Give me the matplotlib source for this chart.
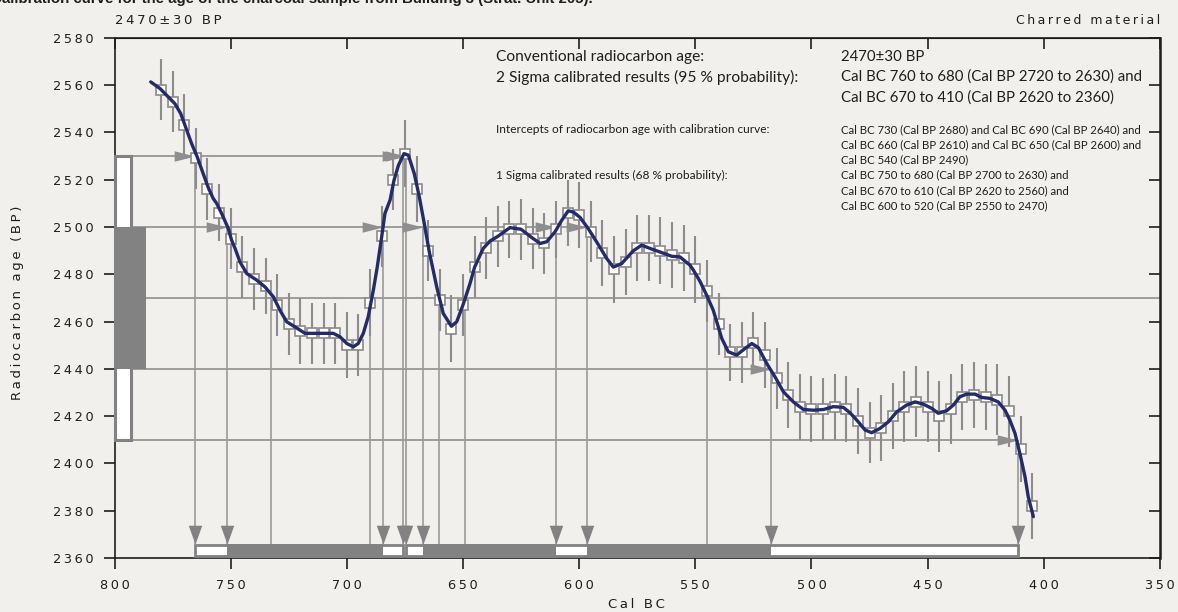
import numpy as np
import matplotlib.pyplot as plt
from matplotlib.patches import Rectangle

# calibration points (5-year steps) with 1-sigma error, Cal BC
point_years = list(range(780, 400, -5))
point_ages = [2558, 2553, 2543, 2529, 2516, 2506, 2495, 2483, 2478, 2475,
              2467, 2459, 2456, 2455, 2455, 2455, 2450, 2450, 2468, 2496,
              2520, 2531, 2516, 2490, 2469, 2457, 2467, 2483, 2491, 2496,
              2499, 2499, 2495, 2493, 2499, 2506, 2505, 2498, 2489, 2482,
              2485, 2491, 2491, 2490, 2488, 2487, 2482, 2473, 2459, 2447,
              2447, 2451, 2446, 2436, 2429, 2424, 2423, 2423, 2424, 2423,
              2418, 2413, 2415, 2420, 2424, 2426, 2424, 2420, 2423, 2428,
              2429, 2428, 2427, 2422, 2406, 2382]
point_errs = [13, 13, 13, 13, 13, 12, 13, 13, 13, 12,
              13, 13, 14, 13, 13, 13, 14, 13, 14, 13,
              13, 14, 14, 13, 13, 14, 13, 13, 13, 13,
              12, 13, 13, 13, 12, 14, 14, 13, 14, 14,
              14, 14, 14, 14, 14, 14, 14, 13, 13, 12,
              13, 13, 14, 13, 14, 14, 14, 13, 14, 14,
              14, 13, 14, 14, 15, 15, 15, 15, 15, 14,
              14, 14, 15, 15, 14, 14]

# smoothed calibration curve
curve_years = [784.4, 780.4, 777.5, 774.0, 771.5, 768.9, 766.8, 764.4, 762.0, 759.6,
               757.5, 756.0, 753.9, 751.0, 749.6, 748.1, 746.0, 743.1, 738.8, 735.2,
               731.6, 728.8, 725.9, 722.3, 718.0, 713.0, 705.8, 702.9, 700.0, 697.2,
               695.1, 692.9, 690.8, 688.6, 686.9, 685.0, 683.6, 681.4, 679.7, 677.8,
               675.4, 673.5, 671.0, 668.8, 666.8, 664.5, 661.3, 658.5, 655.0, 652.7,
               650.0, 647.0, 645.0, 641.3, 638.4, 635.0, 629.8, 625.0, 620.4, 616.8,
               614.0, 610.4, 607.5, 604.7, 602.5, 599.6, 596.1, 592.5, 588.1, 585.3,
               581.7, 576.7, 573.1, 569.5, 565.2, 560.2, 556.6, 552.3, 551.0, 548.0,
               545.1, 542.3, 538.6, 535.8, 532.2, 528.6, 525.7, 522.9, 519.3, 515.7,
               512.1, 507.8, 503.5, 499.2, 494.8, 490.6, 486.3, 483.4, 480.5, 476.9,
               474.1, 470.5, 466.9, 463.3, 459.0, 455.4, 451.9, 448.3, 445.4, 441.8,
               438.9, 436.1, 433.2, 429.6, 426.8, 423.2, 419.6, 416.7, 414.6, 412.4,
               410.3, 408.1, 406.7, 404.5]
curve_ages = [2561.3, 2558.5, 2555.6, 2552.1, 2547.9, 2540.9, 2535.2, 2529.6, 2523.0, 2516.5,
              2512.0, 2509.9, 2505.7, 2499.3, 2494.4, 2490.9, 2485.2, 2480.3, 2477.5, 2474.6,
              2470.4, 2464.8, 2459.9, 2457.7, 2455.0, 2455.0, 2455.0, 2453.5, 2450.7, 2449.3,
              2450.7, 2455.0, 2462.0, 2473.2, 2483.1, 2495.8, 2505.7, 2511.3, 2519.7, 2526.0,
              2531.0, 2530.3, 2522.6, 2512.7, 2502.1, 2489.4, 2474.6, 2463.4, 2458.0, 2459.9,
              2467.0, 2476.0, 2483.0, 2490.9, 2494.0, 2496.0, 2499.7, 2499.0, 2495.5, 2493.0,
              2493.7, 2497.9, 2502.8, 2506.8, 2506.3, 2504.0, 2499.3, 2493.7, 2486.6, 2483.0,
              2484.5, 2489.9, 2492.3, 2490.9, 2489.4, 2487.6, 2487.3, 2483.8, 2482.0, 2477.0,
              2471.1, 2464.8, 2452.8, 2447.2, 2445.8, 2448.6, 2450.7, 2449.0, 2442.3, 2436.6,
              2430.3, 2426.0, 2422.8, 2422.5, 2422.8, 2424.0, 2423.7, 2421.4, 2418.3, 2414.1,
              2413.0, 2414.8, 2417.6, 2421.8, 2424.7, 2426.0, 2425.1, 2423.3, 2421.2, 2422.3,
              2424.7, 2428.2, 2429.3, 2429.3, 2427.9, 2427.5, 2426.0, 2422.5, 2418.3, 2412.7,
              2404.2, 2394.4, 2385.9, 2377.5]

# measured age and its sigma levels (BP)
c14_age = 2470
sigma1_levels = (2440, 2500)
sigma2_levels = (2410, 2530)

# calibrated ranges (start, end) and the BP level each bound sits on
sigma2_ranges = [(765.3, 676.0), (674.5, 410.9)]
sigma2_bound_levels = [(2530, 2530), (2530, 2410)]
sigma1_ranges = [(751.7, 684.3), (667.3, 609.9), (596.7, 517.3)]
sigma1_bound_levels = [(2500, 2500), (2500, 2500), (2500, 2440)]
intercepts = [732.5, 690.2, 660.5, 649.3, 544.8]

bg = '#f2f0ed'
line_grey = '#8e8e8e'
bar_grey = '#828282'
ink = '#1e1e1e'
navy = '#232b6b'
narrow = ['Lato', 'DejaVu Sans']


def spaced(s):
    return '\u2009'.join(s)


fig = plt.figure(figsize=(11.78, 6.12), dpi=100)
fig.patch.set_facecolor(bg)
ax = fig.add_axes([0.0972, 0.0882, 0.8875, 0.8502])
ax.set_facecolor(bg)
ax.set_xlim(800, 350)
ax.set_ylim(2360, 2580)

bar_top = 2366

# horizontal level lines, each running to the last bound on that level
bounds = []
for rng, lv in zip(sigma2_ranges + sigma1_ranges, sigma2_bound_levels + sigma1_bound_levels):
    bounds.append((rng[0], lv[0]))
    bounds.append((rng[1], lv[1]))
for level in sigma1_levels + sigma2_levels:
    end = min(b for b, lv in bounds if lv == level)
    ax.hlines(level, 800, end, color=line_grey, lw=1.2, zorder=1)
ax.hlines(c14_age, 800, 350, color=line_grey, lw=1.2, zorder=1)

# drop lines from levels to the range bars
for b, lv in bounds:
    ax.vlines(b, bar_top, lv, color='#9a9a9a', lw=1.2, zorder=1)
ax.vlines(intercepts, bar_top, c14_age, color='#9a9a9a', lw=1.2, zorder=1)

# arrow heads
down_tri = [(-0.36, 1.0), (0.36, 1.0), (0.0, 0.0)]
right_tri = [(-1.0, -0.25), (-1.0, 0.25), (0.0, 0.0)]
bx = [b for b, lv in bounds]
by = [lv for b, lv in bounds]
ax.plot(bx, by, ls='none', marker=right_tri, ms=30, color=line_grey,
        mec='none', zorder=3)
ax.plot(bx, [bar_top] * len(bx), ls='none', marker=down_tri, ms=27,
        color=bar_grey, mec='none', zorder=3, clip_on=False)

# range bars along the bottom
for a, b in sigma2_ranges:
    ax.add_patch(Rectangle((a, 2360.7), b - a, 4.9, facecolor='white',
                           edgecolor=bar_grey, lw=2, zorder=4))
for a, b in sigma1_ranges:
    ax.add_patch(Rectangle((a, 2360), b - a, 6, facecolor=bar_grey,
                           edgecolor='none', zorder=5))

# range bars along the age axis
ax.add_patch(Rectangle((799.8, sigma2_levels[0]), -6.8,
                       sigma2_levels[1] - sigma2_levels[0], facecolor='white',
                       edgecolor=bar_grey, lw=2.2, zorder=4, clip_on=False))
ax.add_patch(Rectangle((800, sigma1_levels[0]), -13.6,
                       sigma1_levels[1] - sigma1_levels[0], facecolor=bar_grey,
                       edgecolor='none', zorder=5, clip_on=False))

# calibration data
ages = np.array(point_ages)
errs = np.array(point_errs)
ax.vlines(point_years, ages - errs, ages + errs, color='#8c8c8c', lw=1.5, zorder=2)
ax.plot(point_years, point_ages, ls='none', marker='s', ms=6.5,
        mfc='white', mec='#8a8a8a', mew=1.2, zorder=6)
ax.plot(curve_years, curve_ages, color=navy, lw=2.4, zorder=7,
        solid_joinstyle='round', solid_capstyle='round')

# axes styling
xt = list(range(800, 349, -50))
yt = list(range(2360, 2581, 20))
ax.set_xticks(xt)
ax.set_yticks(yt)
ax.set_xticklabels([spaced(str(v)) for v in xt])
ax.set_yticklabels([spaced(str(v)) for v in yt])
ax.tick_params(axis='both', direction='out', length=8, width=1.2,
               color=ink, labelcolor=ink, labelsize=9.3, pad=7)
for side in ['left', 'bottom', 'top', 'right']:
    ax.spines[side].set_color(ink)
    ax.spines[side].set_linewidth(1.2)
ax.spines['right'].set_linewidth(1.8)

top = ax.secondary_xaxis('top')
top.set_xticks(xt)
top.tick_params(direction='in', length=8, width=1.2, color=ink, labeltop=False)
right = ax.secondary_yaxis('right')
right.set_yticks(yt)
right.tick_params(direction='in', length=8, width=1.2, color=ink, labelright=False)


def px(x, y):
    return x / 1178, 1 - y / 612


fig.text(*px(636.6, 604), spaced('Cal BC'), ha='center', va='center',
         fontsize=9.5, color=ink)
fig.text(*px(18, 303), spaced('Radiocarbon age (BP)'), ha='center', va='center',
         rotation=90, fontsize=9.5, color=ink)
fig.text(*px(115, 20), spaced('2470±30 BP'), ha='left', va='center',
         fontsize=9.5, color=ink)
fig.text(*px(1160, 20), spaced('Charred material'), ha='right', va='center',
         fontsize=9, color=ink)
fig.text(*px(-9, 3.5), 'Calibration curve for the age of the charcoal sample '
         'from Building 3 (Strat. Unit 205).', ha='left', va='baseline',
         fontsize=10.8, fontweight='bold', family='Liberation Sans', color=ink)

# results summary
big_left = ['Conventional radiocarbon age:',
            '2 Sigma calibrated results (95 % probability):']
big_right = ['2470±30 BP',
             'Cal BC 760 to 680 (Cal BP 2720 to 2630) and',
             'Cal BC 670 to 410 (Cal BP 2620 to 2360)']
for i, s in enumerate(big_left):
    fig.text(*px(495.6, 56.7 + 20.3 * i), s, va='center', fontsize=11.2,
             family=narrow, color=ink)
for i, s in enumerate(big_right):
    fig.text(*px(840.6, 56.7 + 20.3 * i), s, va='center', fontsize=10.8,
             family=narrow, color=ink)

small_left = {129.3: 'Intercepts of radiocarbon age with calibration curve:',
              175.0: '1 Sigma calibrated results (68 % probability):'}
small_right = ['Cal BC 730 (Cal BP 2680) and Cal BC 690 (Cal BP 2640) and',
               'Cal BC 660 (Cal BP 2610) and Cal BC 650 (Cal BP 2600) and',
               'Cal BC 540 (Cal BP 2490)',
               'Cal BC 750 to 680 (Cal BP 2700 to 2630) and',
               'Cal BC 670 to 610 (Cal BP 2620 to 2560) and',
               'Cal BC 600 to 520 (Cal BP 2550 to 2470)']
for y, s in small_left.items():
    fig.text(*px(495.6, y), s, va='center', fontsize=8.6, family=narrow, color=ink)
for i, s in enumerate(small_right):
    fig.text(*px(840.6, 129.3 + 15.3 * i), s, va='center', fontsize=8.2,
             family=narrow, color=ink)

fig.savefig('out.png', dpi=100, facecolor=bg)
